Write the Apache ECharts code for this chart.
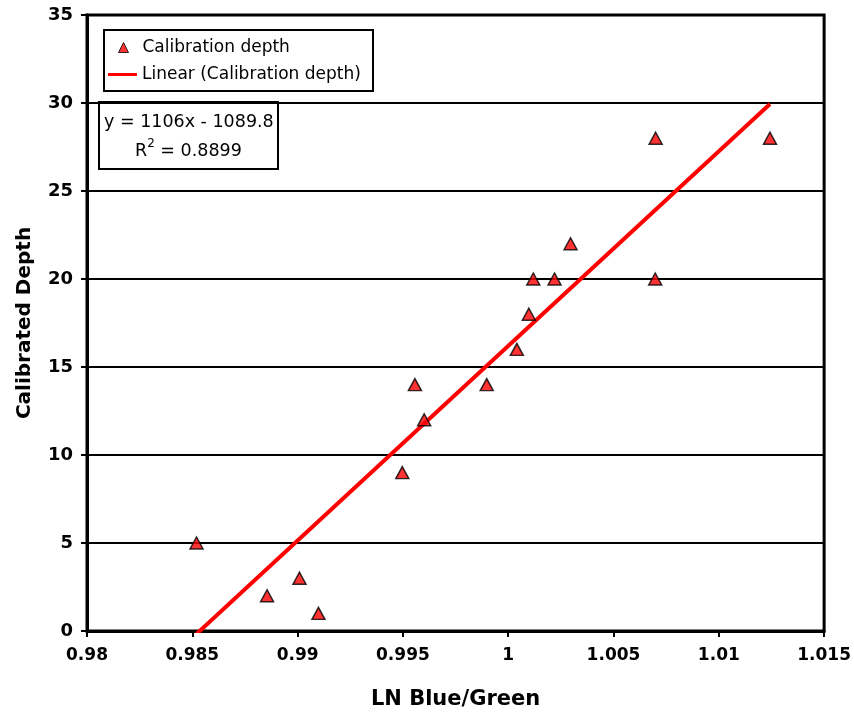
<!DOCTYPE html>
<html><head><meta charset="utf-8">
<script src="https://cdn.jsdelivr.net/npm/echarts@6/dist/echarts.min.js"></script>
<style>html,body{margin:0;padding:0;background:#fff}#c{width:854px;height:715px}</style>
</head><body><div id="c"></div>
<script>
const xValues = [0.98520, 0.98855, 0.99009, 0.99099, 0.99497, 0.99557, 0.99601, 0.99898, 1.00041, 1.00098, 1.00119, 1.00220, 1.00296, 1.00698, 1.00700, 1.01243];
const yValues = [5, 2, 3, 1, 9, 14, 12, 14, 16, 18, 20, 20, 22, 20, 28, 28];
const trendSlope = 1106;
const trendIntercept = -1089.8;
const rSquared = '0.8899';
const seriesName = 'Calibration depth';
const trendName = 'Linear (Calibration depth)';

const points = xValues.map((x, i) => [x, yValues[i]]);
const xMin = Math.min(...xValues), xMax = Math.max(...xValues);
const trend = [[xMin, trendSlope * xMin + trendIntercept], [xMax, trendSlope * xMax + trendIntercept]];
const font = '"DejaVu Sans", Arial, sans-serif';

const chart = echarts.init(document.getElementById('c'), null, {renderer: 'canvas'});
chart.setOption({
  animation: false,
  backgroundColor: '#fff',
  grid: {left: 87, right: 27, top: 15, bottom: 84, show: true, borderColor: '#000', borderWidth: 3, backgroundColor: '#fff'},
  xAxis: {
    type: 'value', min: 0.98, max: 1.015, interval: 0.005,
    name: 'LN Blue/Green', nameLocation: 'middle', nameGap: 58,
    nameTextStyle: {fontFamily: font, fontWeight: 'bold', fontSize: 21, color: '#000'},
    axisLine: {show: true, lineStyle: {color: '#000', width: 3}},
    axisTick: {show: true, inside: false, length: 6, lineStyle: {color: '#000', width: 2}},
    axisLabel: {fontFamily: font, fontWeight: 'bold', fontSize: 17, color: '#000', margin: 16,
      formatter: v => parseFloat(v.toFixed(3)).toString()},
    splitLine: {show: false}
  },
  yAxis: {
    type: 'value', min: 0, max: 35, interval: 5,
    name: 'Calibrated Depth', nameLocation: 'middle', nameGap: 52, nameRotate: 90,
    nameTextStyle: {fontFamily: font, fontWeight: 'bold', fontSize: 20, color: '#000'},
    axisLine: {show: true, lineStyle: {color: '#000', width: 3}},
    axisTick: {show: true, inside: false, length: 6, lineStyle: {color: '#000', width: 2}},
    axisLabel: {fontFamily: font, fontWeight: 'bold', fontSize: 18, color: '#000', margin: 14},
    splitLine: {show: true, lineStyle: {color: '#000', width: 2}}
  },
  legend: [
    {
      orient: 'vertical', left: 118, top: 39, padding: 0,
      itemWidth: 10, itemHeight: 10,
      textStyle: {fontFamily: font, fontSize: 17, color: '#000', padding: [0, 0, 0, 9]},
      data: [{name: seriesName, icon: 'triangle', itemStyle: {color: '#ff0000', borderColor: '#000', borderWidth: 1}}]
    },
    {
      orient: 'vertical', left: 108, top: 66, padding: 0,
      itemWidth: 29, itemHeight: 3,
      textStyle: {fontFamily: font, fontSize: 17, color: '#000', padding: [0, 0, 0, 0]},
      data: [{name: trendName, icon: 'rect', itemStyle: {color: '#ff0000', borderWidth: 0}}]
    }
  ],
  graphic: [
    {type: 'rect', left: 103, top: 29, z: 0, silent: true,
      shape: {width: 269, height: 61}, style: {fill: '#fff', stroke: '#000', lineWidth: 2}},
    {
      type: 'group', left: 98, top: 101, z: 100,
      children: [
        {type: 'rect', shape: {x: 0, y: 0, width: 179, height: 67}, style: {fill: '#fff', stroke: '#000', lineWidth: 2}},
        {type: 'text', left: 5, top: 11, style: {text: 'y = 1106x - 1089.8', fontFamily: font, fontSize: 17.5, fill: '#000'}},
        {type: 'text', left: 36, top: 36, style: {text: '{n|R}{s|2}{n| = ' + rSquared + '}', fontFamily: font, fill: '#000',
          rich: {n: {fontFamily: font, fontSize: 17.5, fill: '#000', verticalAlign: 'bottom'}, s: {fontFamily: font, fontSize: 12, fill: '#000', verticalAlign: 'top', padding: [0, 0, 10, 0]}}}}
      ]
    }
  ],
  series: [
    {name: trendName, type: 'line', data: trend, clip: true, symbol: 'none', z: 2,
      lineStyle: {color: '#ff0000', width: 4}, itemStyle: {color: '#ff0000'}},
    {name: seriesName, type: 'scatter', data: points, symbol: 'triangle', symbolSize: [13, 12], z: 3,
      itemStyle: {color: '#ff0000', borderColor: '#000', borderWidth: 1.5}}
  ]
});
</script></body></html>
